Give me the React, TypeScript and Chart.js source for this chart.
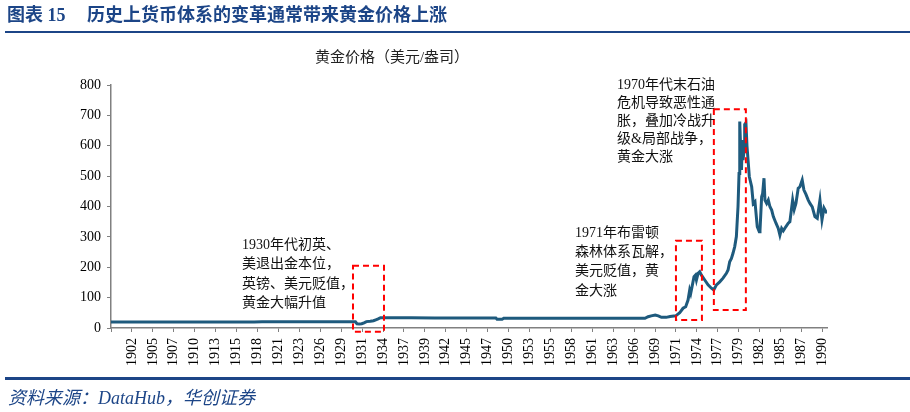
import React, { useEffect, useRef } from "react";
import { Chart, registerables } from "chart.js";

Chart.register(...registerables);

// ---- data (year as fractional value, gold price USD/oz) ----
const goldYears = [
  1899.75, 1910, 1918, 1919, 1925, 1930.9, 1931.1, 1931.4, 1931.7, 1932.0, 1932.3, 1932.8, 1933.2,
  1933.5, 1933.8, 1934.1, 1938, 1941, 1945, 1948.8, 1948.95, 1949.6, 1949.8, 1955, 1960, 1967.8,
  1968.2, 1968.6, 1969.1, 1969.5, 1969.9, 1970.5, 1971.0, 1971.72, 1972.23, 1972.65, 1972.99,
  1973.29, 1973.5, 1973.63, 1973.8, 1974.05, 1974.23, 1974.36, 1974.57, 1974.78, 1975.0, 1975.42,
  1975.84, 1976.27, 1976.57, 1976.91, 1977.33, 1977.75, 1978.18, 1978.39, 1978.6, 1978.82,
  1979.02, 1979.24, 1979.45, 1979.66, 1979.79, 1979.88, 1980.0, 1980.1, 1980.22, 1980.3,
  1980.43, 1980.51, 1980.67, 1980.8, 1981.1, 1981.4, 1981.6, 1981.82, 1982.11, 1982.37,
  1982.46, 1982.67, 1982.8, 1982.97, 1983.09, 1983.31, 1983.52, 1983.73, 1983.95, 1984.16,
  1984.5, 1984.79, 1985.0, 1985.22, 1985.43, 1985.77, 1986.06, 1986.27, 1986.62, 1986.82,
  1987.04, 1987.33, 1987.55, 1987.84, 1988.06, 1988.32, 1988.61, 1988.83, 1989.12, 1989.46,
  1989.76, 1990.1, 1990.36, 1990.62, 1990.87, 1991.0,
];
const goldPrices = [
  19.5, 19.5, 19.5, 20.5, 20.5, 20.5, 14, 13, 14, 17, 21, 22, 24,
  27, 30, 34, 34, 33, 33, 33, 29, 29, 32, 32, 32, 32,
  37, 40, 43, 40, 35, 35, 38, 40, 50, 65, 70,
  92, 125, 114, 136, 169, 174, 158, 180, 185, 174, 158,
  142, 131, 125, 142, 152, 164, 180, 191, 218, 229,
  246, 268, 301, 400, 509, 680, 586, 520, 619, 553,
  586, 670, 676, 600, 498, 465, 410, 416, 334, 317,
  320, 432, 443, 493, 421, 410, 421, 399, 388, 367,
  345, 328, 306, 328, 320, 334, 345, 350, 421, 390,
  410, 460, 465, 487, 454, 440, 421, 410, 399, 367,
  361, 421, 356, 395, 383, 378,
];

const xTickLabels = [
  "1902", "1905", "1907", "1910", "1913", "1915", "1918", "1921", "1923", "1926", "1929",
  "1931", "1934", "1937", "1939", "1942", "1945", "1947", "1950", "1953", "1955", "1958",
  "1961", "1963", "1966", "1969", "1971", "1974", "1977", "1979", "1982", "1985", "1987", "1990",
];
const xAxisStart = 1899.75;
const xAxisEnd = 1991.0;
const xTickStepYears = 8 / 3; // one label every 32 months

// highlight boxes (data coordinates)
const boxX0 = [1930.59, 1971.75, 1976.58];
const boxX1 = [1934.54, 1975.06, 1980.66];
const boxYTop = [205, 287, 720];
const boxYBottom = [-12, 26, 59];

const annotations = [
  { lines: ["1930年代初英、", "美退出金本位，", "英镑、美元贬值，", "黄金大幅升值"], left: 242, top: 235, lh: 19.4 },
  { lines: ["1971年布雷顿", "森林体系瓦解，", "美元贬值，黄", "金大涨"], left: 575, top: 223, lh: 19.2 },
  { lines: ["1970年代末石油", "危机导致恶性通", "胀，叠加冷战升", "级&局部战争，", "黄金大涨"], left: 617, top: 76, lh: 18.1 },
];

const SERIF = "'Liberation Serif', 'Noto Sans CJK SC', serif";
const BLUE = "#1c4587";

export default function App() {
  const ref = useRef<HTMLCanvasElement | null>(null);

  useEffect(() => {
    if (!ref.current) return;
    const tickValues = [xAxisStart];
    for (let k = 1; k <= xTickLabels.length; k++) tickValues.push(xAxisStart + k * xTickStepYears);
    const data = goldYears.map((x, i) => ({ x, y: goldPrices[i] }));

    const boxPlugin = {
      id: "boxes",
      afterDatasetsDraw(chart: any) {
        const { ctx, scales } = chart;
        ctx.save();
        ctx.strokeStyle = "#ff0000";
        ctx.lineWidth = 2;
        ctx.setLineDash([6, 4]);
        for (let i = 0; i < boxX0.length; i++) {
          const x0 = scales.x.getPixelForValue(boxX0[i]);
          const x1 = scales.x.getPixelForValue(boxX1[i]);
          const y0 = scales.y.getPixelForValue(boxYTop[i]);
          const y1 = scales.y.getPixelForValue(boxYBottom[i]);
          ctx.strokeRect(x0, y0, x1 - x0, y1 - y0);
        }
        ctx.restore();
      },
    };

    const chart = new Chart(ref.current, {
      type: "line",
      data: {
        datasets: [
          {
            data,
            borderColor: "#1e5a7d",
            borderWidth: 3,
            pointRadius: 0,
            tension: 0,
            fill: false,
          },
        ],
      },
      options: {
        animation: false,
        responsive: false,
        devicePixelRatio: 1,
        layout: { padding: { left: 0, right: 83, top: 85, bottom: 44 } },
        plugins: { legend: { display: false }, tooltip: { enabled: false } },
        scales: {
          x: {
            type: "linear",
            min: xAxisStart,
            max: xAxisEnd,
            afterBuildTicks: (scale: any) => {
              scale.ticks = tickValues.map((v) => ({ value: v }));
            },
            afterFit: (scale: any) => {
              scale.height = 40;
            },
            ticks: {
              autoSkip: false,
              minRotation: 90,
              maxRotation: 90,
              padding: 6,
              color: "#000",
              font: { family: SERIF, size: 14 },
              callback: (_v: any, i: number) => (i === 0 ? "" : xTickLabels[i - 1]),
            },
            grid: { drawOnChartArea: false, drawTicks: true, tickLength: 4, color: "#808080" },
            border: { color: "#808080", width: 1.5 },
          },
          y: {
            min: 0,
            max: 800,
            afterFit: (scale: any) => {
              scale.width = 111;
            },
            ticks: {
              stepSize: 100,
              padding: 6,
              color: "#000",
              font: { family: SERIF, size: 14 },
            },
            grid: { drawOnChartArea: false, drawTicks: true, tickLength: 4, color: "#808080" },
            border: { color: "#808080", width: 1.5 },
          },
        },
      },
      plugins: [boxPlugin],
    });
    return () => chart.destroy();
  }, []);

  return (
    <div style={{ position: "fixed", left: 0, top: 0, width: 910, height: 412, background: "#fff", overflow: "hidden" }}>
      <canvas ref={ref} width={910} height={412} style={{ position: "absolute", left: 0, top: 0 }} />
      <div style={{ position: "absolute", left: 7, top: 4, fontFamily: SERIF, fontWeight: "bold", fontSize: 18, color: BLUE, lineHeight: "22px", whiteSpace: "nowrap" }}>
        图表 15
      </div>
      <div style={{ position: "absolute", left: 87, top: 4, fontFamily: SERIF, fontWeight: "bold", fontSize: 18, color: BLUE, lineHeight: "22px", whiteSpace: "nowrap" }}>
        历史上货币体系的变革通常带来黄金价格上涨
      </div>
      <div style={{ position: "absolute", left: 5, right: 0, top: 31, height: 2, background: BLUE }} />
      <div style={{ position: "absolute", left: 292, width: 200, top: 46, textAlign: "center", fontFamily: SERIF, fontSize: 15, color: "#222", lineHeight: "22px", whiteSpace: "nowrap" }}>
        黄金价格（美元/盎司）
      </div>
      {annotations.map((a, i) => (
        <div key={i} style={{ position: "absolute", left: a.left, top: a.top, fontFamily: SERIF, fontSize: 14, color: "#111", lineHeight: a.lh + "px", whiteSpace: "nowrap" }}>
          {a.lines.map((l, j) => (
            <div key={j}>{l}</div>
          ))}
        </div>
      ))}
      <div style={{ position: "absolute", left: 5, right: 0, top: 377, height: 3, background: BLUE }} />
      <div style={{ position: "absolute", left: 8, top: 387, fontFamily: SERIF, fontStyle: "italic", fontSize: 18, color: BLUE, lineHeight: "22px", whiteSpace: "nowrap" }}>
        资料来源：DataHub，华创证券
      </div>
    </div>
  );
}
